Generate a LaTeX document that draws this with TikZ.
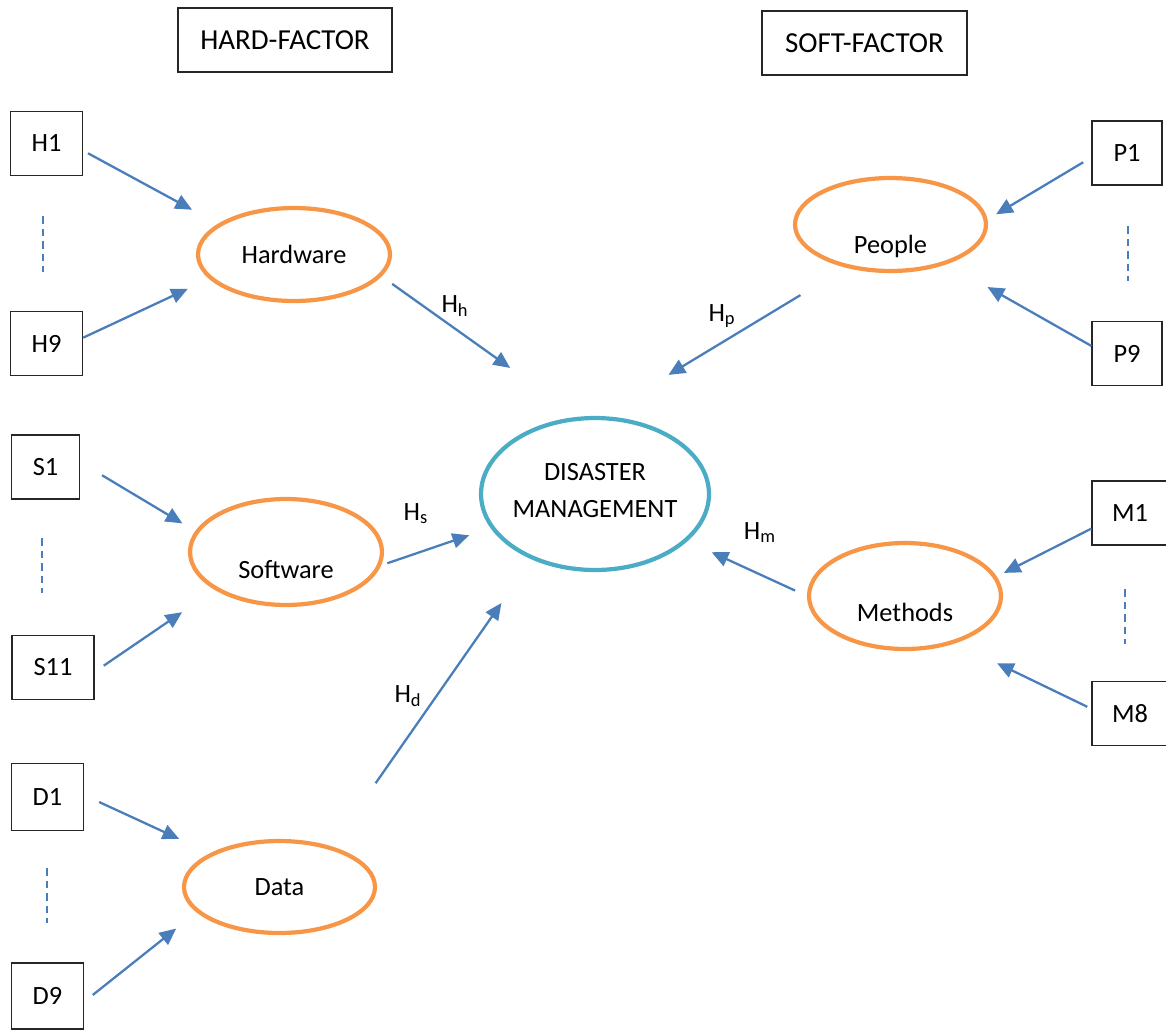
\documentclass[tikz,border=0pt]{standalone}
\usepackage{fontspec}
\setmainfont{Carlito}
\usetikzlibrary{arrows.meta,shapes.geometric}
\definecolor{factororange}{HTML}{F79646}
\definecolor{arrowblue}{HTML}{4A7EBB}
\definecolor{coreblue}{HTML}{4BACC6}

\begin{document}
\begin{tikzpicture}[
        x=0.02cm, y=-0.02cm,
        font=\fontsize{15}{21.6}\selectfont,
        item/.style={rectangle,draw=black!85,line width=0.75pt,minimum width=1.44cm,minimum height=1.28cm},
        title/.style={item,font=\fontsize{16.5}{20}\selectfont},
        factor/.style={ellipse,draw=factororange,line width=2.4pt,inner sep=0pt,minimum width=3.84cm,minimum height=1.86cm},
        core/.style={ellipse,draw=coreblue,line width=2.4pt,inner sep=0pt,minimum width=4.56cm,minimum height=3.04cm},
        edge/.style={-{Triangle[length=9.5pt,width=8.5pt]},line width=1.3pt,arrowblue},
        more/.style={arrowblue,line width=0.7pt,dash pattern=on 0.15cm off 0.1cm}
    ]
        \useasboundingbox (0,0) rectangle (1166,1029);

        % Define the nodes
        \node[title,minimum width=4.28cm] (hard) at (285,40) {HARD-FACTOR};
        \node[title,minimum width=4.1cm] (soft) at (864.5,43) {SOFT-FACTOR};

        \node[item] (H1) at (46.5,143.5) {H1};
        \node[item] (H9) at (46.5,343.5) {H9};
        \node[item,minimum width=1.36cm] (S1) at (45.5,467) {S1};
        \node[item,minimum width=1.64cm] (S11) at (53,667.5) {S11};
        \node[item,minimum height=1.34cm] (D1) at (47.5,797) {D1};
        \node[item,minimum height=1.32cm] (D9) at (47.5,996) {D9};
        \node[item,minimum width=1.4cm] (P1) at (1127,153) {P1};
        \node[item,minimum width=1.4cm] (P9) at (1127,353.5) {P9};
        \node[item,minimum width=1.52cm] (M1) at (1130,513) {M1};
        \node[item,minimum width=1.52cm] (M8) at (1130,713.5) {M8};

        \node[factor] (hw) at (294,254.5) {Hardware};
        \node[factor,minimum height=2.12cm,text height=1.04cm,text depth=0pt] (sw) at (286,552) {Software};
        \node[factor,minimum width=3.82cm,minimum height=1.84cm] (data) at (279.5,887) {Data};
        \node[factor,minimum width=3.82cm,text height=1.14cm,text depth=0pt] (people) at (890.5,224.5) {People};
        \node[factor,minimum height=2.12cm,text height=1cm,text depth=0pt] (methods) at (905,596) {Methods};
        \node[core,label={[yshift=0.07cm,align=center]center:DISASTER\\MANAGEMENT}] (dm) at (595,494) {};

        % Draw the arrows into the factors
        \draw [edge,shorten <=0.11cm,shorten >=0.59cm] (H1.-11) -- (hw.158);
        \draw [edge,shorten >=0.47cm] (H9.9) -- (hw.196);
        \draw [edge,shorten <=0.51cm,shorten >=0.3cm] (S1.8) -- (sw.167);
        \draw [edge,shorten <=0.22cm,shorten >=0.79cm] (S11.-6) -- (sw.208);
        \draw [edge,shorten <=0.33cm,shorten >=0.68cm] (D1.3) -- (data.154);
        \draw [edge,shorten <=0.22cm,shorten >=0.52cm] (D9.-9) -- (data.197);
        \draw [edge,shorten <=0.19cm,shorten >=0.2cm] (P1.187) -- (people.3);
        \draw [edge,shorten >=0.93cm] (P9.168) -- (people.-35);
        \draw [edge,shorten >=0.16cm] (M1.202) -- (methods.12);
        \draw [edge,shorten <=0.09cm,shorten >=0.92cm] (M8.173) -- (methods.-43);

        % Draw the arrows into disaster management
        \draw [edge,shorten <=0.26cm,shorten >=1.68cm] (hw.-14) -- (dm.102);
        \draw [edge,shorten <=0.13cm,shorten >=0.45cm] (sw.-8.5) -- (dm.198.5);
        \draw [edge,shorten <=1.54cm,shorten >=1.06cm] (data.38.7) -- (dm.226.5);
        \draw [edge,shorten <=1.06cm,shorten >=1.59cm] (people.224) -- (dm.86.5);
        \draw [edge,shorten <=0.26cm,shorten >=0.53cm] (methods.180) -- (dm.-27);

        % Label the hypotheses
        \node[anchor=base] (Hh) at (455,312) {H\textsubscript{h}};
        \node[anchor=base] (Hs) at (416,520) {H\textsubscript{s}};
        \node[anchor=base] (Hd) at (408,702) {H\textsubscript{d}};
        \node[anchor=base] (Hp) at (722,321) {H\textsubscript{p}};
        \node[anchor=base] (Hm) at (760,539) {H\textsubscript{m}};

        % Dashed marks between first and last items
        \draw [more] (43,216) -- (43,272);
        \draw [more] (42,538) -- (42,593);
        \draw [more] (47,868) -- (47,923);
        \draw [more] (1128,226) -- (1128,281);
        \draw [more] (1125,589) -- (1125,644);
    \end{tikzpicture}
\end{document}
